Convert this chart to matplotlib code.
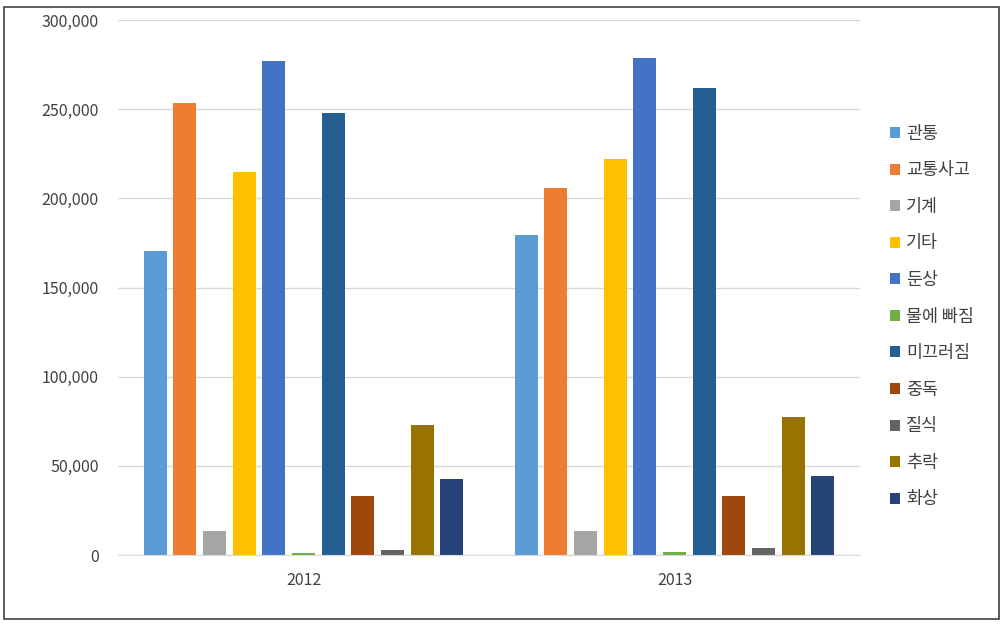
import matplotlib
matplotlib.use("Agg")
import matplotlib.pyplot as plt
import numpy as np
from matplotlib.patches import Rectangle
from matplotlib.ticker import FuncFormatter

plt.rcParams['font.family'] = ['Noto Sans CJK KR', 'DejaVu Sans']

years = ["2012", "2013"]
categories = ["관통", "교통사고", "기계", "기타", "둔상", "물에 빠짐",
              "미끄러짐", "중독", "질식", "추락", "화상"]
values_2012 = [170500, 253500, 13500, 214800, 277000, 1000,
               248000, 33000, 3000, 73000, 42600]
values_2013 = [179500, 205800, 13500, 222000, 278700, 1500,
               262000, 33000, 4000, 77400, 44300]
colors = ["#5B9BD5", "#ED7D31", "#A5A5A5", "#FFC000", "#4472C4", "#70AD47",
          "#255E91", "#9E480E", "#636363", "#997300", "#264478"]

fig = plt.figure(figsize=(10.06, 6.24), dpi=100)
ax = fig.add_axes([118 / 1006, 69 / 624, 742 / 1006, 535 / 624])

x = np.arange(len(years))
pitch = 0.08
width = 0.062
for i, cat in enumerate(categories):
    vals = [values_2012[i], values_2013[i]]
    ax.bar(x + (i - 5) * pitch, vals, width, color=colors[i], label=cat, zorder=2)

ax.set_xlim(-0.5, 1.5)
ax.set_ylim(0, 300000)
ax.set_yticks(np.arange(0, 300001, 50000))
ax.yaxis.set_major_formatter(FuncFormatter(lambda v, p: f"{int(v):,}"))
ax.set_xticks(x)
ax.set_xticklabels(years)
ax.grid(axis='y', color='#D9D9D9', linewidth=1, zorder=0)
for s in ["top", "right", "left"]:
    ax.spines[s].set_visible(False)
ax.spines["bottom"].set_color('#D9D9D9')
ax.tick_params(axis='both', length=0, labelsize=11.5, colors='#404040')
ax.tick_params(axis='y', pad=14)
ax.tick_params(axis='x', pad=12)

leg = fig.legend(loc='upper left', bbox_to_anchor=(874 / 1006, 1 - 109 / 624),
                 frameon=False, fontsize=12.5, handlelength=0.6, handleheight=0.6,
                 handletextpad=0.35, labelspacing=1.07)
for t in leg.get_texts():
    t.set_color('#404040')

fig.patches.append(Rectangle((4 / 1006, 5 / 624), 995 / 1006, 612 / 624,
                             transform=fig.transFigure, fill=False,
                             edgecolor='#404040', linewidth=1.2))

fig.savefig("out.png", dpi=100)
